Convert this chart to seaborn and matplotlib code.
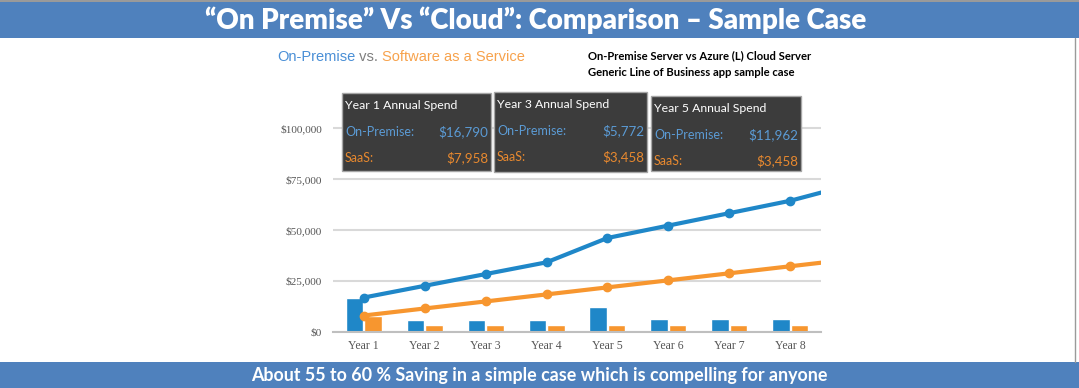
import numpy as np
import pandas as pd
import seaborn as sns
import matplotlib.pyplot as plt
from matplotlib.patches import Rectangle
from matplotlib.ticker import FuncFormatter

# chart data
years = ["Year 1", "Year 2", "Year 3", "Year 4", "Year 5", "Year 6", "Year 7", "Year 8"]
onprem_annual = [16790, 5772, 5772, 5772, 11962, 6100, 6100, 6100]
saas_annual = [7958, 3458, 3458, 3458, 3458, 3458, 3458, 3458]
# cumulative spend (line continues past Year 8 to the plot edge)
onprem_cumulative = [16790, 22562, 28334, 34106, 46068, 52168, 58268, 64368, 72300]
saas_cumulative = [7958, 11416, 14874, 18332, 21790, 25248, 28706, 32164, 35622]
yticks = [0, 25000, 50000, 75000, 100000]

# summary boxes
box_titles = ["Year 1 Annual Spend", "Year 3 Annual Spend", "Year 5 Annual Spend"]
box_onprem = ["$16,790", "$5,772", "$11,962"]
box_saas = ["$7,958", "$3,458", "$3,458"]

BLUE = "#1f87c8"
ORANGE = "#f7962f"
BANNER = "#4f81bd"

sns.set_style("white")
plt.rcParams["font.family"] = ["Lato", "DejaVu Sans"]

W, H = 1079, 388
fig = plt.figure(figsize=(W / 100, H / 100), dpi=100)


def fx(x):
    return x / W


def fy(y):
    return 1 - y / H


# banners
fig.patches.append(Rectangle((0, fy(38)), 1, 38 / H, transform=fig.transFigure,
                             facecolor=BANNER, edgecolor="none", zorder=0))
fig.patches.append(Rectangle((0, fy(2)), 1, 2 / H, transform=fig.transFigure,
                             facecolor="#9a9a9a", edgecolor="none", zorder=1))
fig.patches.append(Rectangle((0, 0), 1, 26 / H, transform=fig.transFigure,
                             facecolor=BANNER, edgecolor="none", zorder=0))
fig.lines.append(plt.Line2D([fx(1075), fx(1075)], [fy(38), fy(362)], transform=fig.transFigure,
                            color="#9a9a9a", lw=1))
fig.text(fx(535.5), fy(20), "\u201cOn Premise\u201d Vs \u201cCloud\u201d: Comparison \u2013 Sample Case",
         ha="center", va="center", color="white", fontsize=20, fontweight="heavy")
fig.text(0.5, fy(376), "About 55 to 60 % Saving in a simple case which is compelling for anyone",
         ha="center", va="center", color="white", fontsize=12.9, fontweight="bold")

# chart
ax = fig.add_axes([fx(333.3), fy(331.7), (820.7 - 333.3) / W, (331.7 - 118.1) / H])
df = pd.DataFrame({
    "year": years * 2,
    "series": ["On-Premise"] * len(years) + ["SaaS"] * len(years),
    "spend": onprem_annual + saas_annual,
})
sns.barplot(data=df, x="year", y="spend", hue="series", order=years,
            hue_order=["On-Premise", "SaaS"], palette=[BLUE, ORANGE],
            width=0.6, gap=0.03, saturation=1, legend=False, ax=ax, zorder=2)
ax.plot(np.arange(len(onprem_cumulative)), onprem_cumulative, color=BLUE, lw=3,
        marker="o", ms=6, zorder=3, clip_on=True)
ax.plot(np.arange(len(saas_cumulative)), saas_cumulative, color=ORANGE, lw=3,
        marker="o", ms=6, zorder=3, clip_on=True)

ax.set_xlim(-0.5, len(years) - 0.5)
ax.set_ylim(0, 105000)
ax.set_yticks(yticks)
ax.yaxis.set_major_formatter(FuncFormatter(lambda v, p: f"${v:,.0f}"))
ax.grid(axis="y", color="#d9d9d9", lw=1.5, zorder=0)
ax.set_axisbelow(True)
for s in ["top", "left", "right"]:
    ax.spines[s].set_visible(False)
ax.spines["bottom"].set_color("#bfbfbf")
ax.spines["bottom"].set_linewidth(1.5)
ax.tick_params(length=0)
ax.tick_params(axis="y", pad=8)
ax.tick_params(axis="x", pad=6)
for lab in ax.get_xticklabels():
    lab.set_family("Liberation Serif")
    lab.set_fontsize(8.5)
    lab.set_color("#555555")
for lab in ax.get_yticklabels():
    lab.set_family("Liberation Serif")
    lab.set_fontsize(8.1)
    lab.set_color("#555555")
ax.set_xlabel("")
ax.set_ylabel("")

# headings above chart
t1 = fig.text(fx(277), fy(57), "On-Premise", color="#4a8fd6", fontsize=10.5,
              family="Liberation Sans", va="center")
fig.canvas.draw()
r = fig.canvas.get_renderer()
bb = t1.get_window_extent(r)
t2 = fig.text(bb.x1 / W, fy(57), " vs. ", color="#7f7f7f", fontsize=10.5,
              family="Liberation Sans", va="center")
bb2 = t2.get_window_extent(r)
fig.text(bb2.x1 / W, fy(57), "Software as a Service", color="#f7a24c", fontsize=10.5,
         family="Liberation Sans", va="center")
fig.text(fx(588), fy(56), "On-Premise Server vs Azure (L) Cloud Server", color="black",
         fontsize=8.1, fontweight="bold", va="center")
fig.text(fx(588), fy(73), "Generic Line of Business app sample case", color="black",
         fontsize=8.1, fontweight="bold", va="center")

# summary boxes
boxes = [(342, 93, 491, 171), (494, 92, 647, 172), (651, 96, 801, 171)]
for (x0, y0, x1, y1), title, op, ss in zip(boxes, box_titles, box_onprem, box_saas):
    fig.patches.append(Rectangle((fx(x0), fy(y1)), (x1 - x0) / W, (y1 - y0) / H,
                                 transform=fig.transFigure, facecolor="#3c3c3c",
                                 edgecolor="#a6a6a6", lw=1, zorder=5))
    fig.text(fx(x0 + 3), fy(y0 + 13), title, color="white", fontsize=8.8, va="center", zorder=6)
    fig.text(fx(x0 + 3), fy(y0 + 39), "On-Premise:", color="#5b9bd5", fontsize=9, va="center", zorder=6)
    fig.text(fx(x1 - 3), fy(y0 + 39), op, color="#5b9bd5", fontsize=9.6, va="center", ha="right", zorder=6)
    fig.text(fx(x0 + 3), fy(y0 + 65), "SaaS:", color="#e8892f", fontsize=9, va="center", zorder=6)
    fig.text(fx(x1 - 3), fy(y0 + 65), ss, color="#e8892f", fontsize=9.6, va="center", ha="right", zorder=6)

fig.savefig("out.png", dpi=100)
